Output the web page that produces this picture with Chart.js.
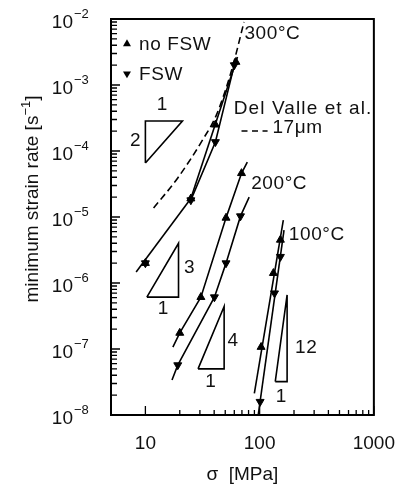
<!DOCTYPE html>
<html>
<head>
<meta charset="utf-8">
<title>minimum strain rate vs stress</title>
<script src="https://cdn.jsdelivr.net/npm/chart.js@4.4.1/dist/chart.umd.min.js"></script>
<style>
html,body{margin:0;padding:0;background:#ffffff;}
#box{position:relative;width:412px;height:486px;}
canvas{display:block;}
</style>
</head>
<body>
<div id="box"><canvas id="chart" width="412" height="486"></canvas></div>
<script>
// ---------- data: σ in MPa, minimum strain rate in s^-1 ----------
const stress300NoFSW = [10, 25, 41, 62];
const rate300NoFSW   = [2.0e-6, 1.9e-5, 2.5e-4, 2.23e-3];
const stress300FSW   = [10, 25, 41, 60];
const rate300FSW     = [2.0e-6, 1.8e-5, 1.37e-4, 2.0e-3];

const stress200NoFSW = [20, 30.6, 50.8, 69.4];
const rate200NoFSW   = [1.75e-7, 6.1e-7, 9.7e-6, 4.6e-5];
const stress200FSW   = [19.2, 40.2, 50.8, 68];
const rate200FSW     = [5.7e-8, 6.1e-7, 2.0e-6, 1.03e-5];

const stress100NoFSW = [103, 132, 152];
const rate100NoFSW   = [1.07e-7, 1.41e-6, 4.5e-6];
const stress100FSW   = [101, 135, 152];
const rate100FSW     = [1.59e-8, 7.0e-7, 2.5e-6];

// lines drawn through the data in the figure
const fit300LowStress   = [8.3, 25];
const fit300LowRate     = [1.47e-6, 1.9e-5];
const fit300NoFSWStress = [25, 64];
const fit300NoFSWRate   = [1.9e-5, 2.65e-3];
const fit300FSWStress   = [25, 41, 60, 62];
const fit300FSWRate     = [1.8e-5, 1.37e-4, 2.0e-3, 2.5e-3];
const fit200NoFSWStress = [17.4, 20, 30.6, 50.8, 69.4, 78];
const fit200NoFSWRate   = [1.07e-7, 1.75e-7, 6.1e-7, 9.7e-6, 4.6e-5, 6.8e-5];
const fit200FSWStress   = [17.1, 19.2, 40.2, 50.8, 68, 81];
const fit200FSWRate     = [3.4e-8, 5.7e-8, 6.1e-7, 2.0e-6, 1.03e-5, 2.0e-5];
const fit100NoFSWStress = [89.9, 161.2];
const fit100NoFSWRate   = [2.13e-8, 9.0e-6];
const fit100FSWStress   = [97.2, 163.5];
const fit100FSWRate     = [1.0e-8, 6.35e-6];

// Del Valle et al., 17 μm (dashed)
const delValleStress = [11.8, 19.2, 32.4, 41.8, 57, 73];
const delValleRate   = [1.37e-5, 3.9e-5, 1.57e-4, 3.5e-4, 1.7e-3, 9.0e-3];

// slope triangles (closed paths, σ / rate)
const slope2Stress  = [10, 10, 21.1, 10];
const slope2Rate    = [6.6e-5, 2.85e-4, 2.85e-4, 6.6e-5];
const slope3Stress  = [10.3, 19.5, 19.5, 10.3];
const slope3Rate    = [6.1e-7, 6.1e-7, 4.0e-6, 6.1e-7];
const slope4Stress  = [28.9, 48.9, 48.9, 28.9];
const slope4Rate    = [5.0e-8, 5.0e-8, 4.4e-7, 5.0e-8];
const slope12Stress = [137, 174, 174, 137];
const slope12Rate   = [3.2e-8, 3.2e-8, 6.6e-7, 3.2e-8];

// tick labels
const xTickValues = [10, 100, 1000];
const xTickLabels = ['10', '100', '1000'];
const yTickExponents = [-8, -7, -6, -5, -4, -3, -2];

// ---------- texts placed at (σ, rate) ----------
const notes = [
  {t: '300°C', s: 73.6, r: 5.9e-3, align: 'left', sp: 0.6},
  {t: 'Del Valle et al.', s: 59.4, r: 4.3e-4, align: 'left', sp: 1.1},
  {t: '17μm', s: 129.4, r: 2.23e-4, align: 'left', sp: 0.6},
  {t: '200°C', s: 84.3, r: 3.22e-5, align: 'left', sp: 0.6},
  {t: '100°C', s: 180.2, r: 5.34e-6, align: 'left', sp: 0.6},
  {t: '1', s: 14.0, r: 4.98e-4, align: 'center', sp: 0},
  {t: '2', s: 8.14, r: 1.42e-4, align: 'center', sp: 0},
  {t: '3', s: 24.2, r: 1.69e-6, align: 'center', sp: 0},
  {t: '1', s: 14.3, r: 4.03e-7, align: 'center', sp: 0},
  {t: '4', s: 58.2, r: 1.32e-7, align: 'center', sp: 0},
  {t: '1', s: 37.2, r: 3.16e-8, align: 'center', sp: 0},
  {t: '12', s: 255.9, r: 1.04e-7, align: 'center', sp: 0.6},
  {t: '1', s: 154.2, r: 1.87e-8, align: 'center', sp: 0}
];
const legendItems = [
  {t: 'no FSW', rot: 0, s: 6.9, ts: 8.8, r: 4.2e-3},
  {t: 'FSW', rot: 180, s: 6.9, ts: 8.8, r: 1.48e-3}
];
const dashKey = {s0: 69.4, s1: 117.4, r: 2.01e-4};

// ---------- styling ----------
const INK = '#000000';
const TXT = '#111111';
const FONT = "'Liberation Sans', Arial, Helvetica, sans-serif";
Chart.defaults.font.family = FONT;
Chart.defaults.color = TXT;

const xy = (xs, ys) => xs.map((v, i) => ({x: v, y: ys[i]}));
const isPow10 = v => Math.abs(Math.log10(v) - Math.round(Math.log10(v))) < 1e-9;

function marks(xs, ys, rot) {
  return {data: xy(xs, ys), showLine: false, pointStyle: 'triangle', pointRotation: rot,
    pointRadius: 4.6, pointHoverRadius: 4.6, pointBackgroundColor: INK, pointBorderColor: INK,
    pointBorderWidth: 1};
}
function line(xs, ys, extra) {
  return Object.assign({data: xy(xs, ys), showLine: true, pointRadius: 0, pointHoverRadius: 0,
    borderColor: INK, borderWidth: 1.6, tension: 0, fill: false, borderJoinStyle: 'miter'}, extra || {});
}

function triPath(ctx, x, y, r, rot) {
  const rad = rot * Math.PI / 180;
  ctx.beginPath();
  for (let k = 0; k < 3; k++) {
    const a = rad + k * 2 * Math.PI / 3;
    const px = x + Math.sin(a) * r, py = y - Math.cos(a) * r;
    if (k === 0) ctx.moveTo(px, py); else ctx.lineTo(px, py);
  }
  ctx.closePath();
}

const decor = {
  id: 'decor',
  afterDraw(chart) {
    const {ctx, chartArea: a, scales: {x, y}} = chart;
    ctx.save();
    ctx.strokeStyle = INK;
    // inward tick marks
    ctx.lineWidth = 1.3;
    ctx.beginPath();
    x.ticks.forEach(t => {
      const p = x.getPixelForValue(t.value);
      const L = isPow10(t.value) ? 9 : 5;
      ctx.moveTo(p, a.bottom); ctx.lineTo(p, a.bottom - L);
    });
    y.ticks.forEach(t => {
      const p = y.getPixelForValue(t.value);
      const L = isPow10(t.value) ? 9 : 6;
      ctx.moveTo(a.left, p); ctx.lineTo(a.left + L, p);
    });
    ctx.stroke();
    // frame
    ctx.lineWidth = 2;
    ctx.strokeRect(a.left, a.top, a.right - a.left, a.bottom - a.top);

    ctx.fillStyle = TXT;
    // y tick labels 10^n
    yTickExponents.forEach(e => {
      const p = y.getPixelForValue(Math.pow(10, e));
      ctx.font = '19px ' + FONT;
      ctx.textAlign = 'right'; ctx.textBaseline = 'alphabetic';
      ctx.fillText('10', a.left - 38, p + 8.5);
      ctx.font = '13px ' + FONT;
      ctx.textAlign = 'left';
      ctx.fillText('\u2212' + Math.abs(e), a.left - 37, p - 1);
    });

    // y axis title
    const main = 'minimum strain rate [s', sup = '\u22121', end = ']';
    ctx.font = '19px ' + FONT;
    const w1 = ctx.measureText(main).width, w3 = ctx.measureText(end).width;
    ctx.font = '13px ' + FONT;
    const w2 = ctx.measureText(sup).width;
    const W = w1 + w2 + w3;
    ctx.save();
    ctx.translate(a.left - 73, (a.top + a.bottom) / 2 - 18);
    ctx.rotate(-Math.PI / 2);
    ctx.textAlign = 'left'; ctx.textBaseline = 'alphabetic';
    ctx.font = '19px ' + FONT;
    ctx.fillText(main, -W / 2, 0);
    ctx.font = '13px ' + FONT;
    ctx.fillText(sup, -W / 2 + w1, -8);
    ctx.font = '19px ' + FONT;
    ctx.fillText(end, -W / 2 + w1 + w2, 0);
    ctx.restore();

    // annotations
    ctx.font = '19px ' + FONT;
    ctx.textBaseline = 'middle';
    notes.forEach(n => {
      ctx.letterSpacing = n.sp + 'px';
      ctx.textAlign = n.align;
      ctx.fillText(n.t, x.getPixelForValue(n.s), y.getPixelForValue(n.r));
    });

    // legend
    ctx.letterSpacing = '0.6px';
    legendItems.forEach(it => {
      const py = y.getPixelForValue(it.r);
      triPath(ctx, x.getPixelForValue(it.s), py, 4.6, it.rot);
      ctx.fillStyle = INK; ctx.fill();
      ctx.fillStyle = TXT; ctx.textAlign = 'left';
      ctx.fillText(it.t, x.getPixelForValue(it.ts), py + 1);
    });
    ctx.letterSpacing = '0px';
    // dashed key
    ctx.setLineDash([6, 4.5]);
    ctx.lineWidth = 1.6;
    ctx.beginPath();
    const dy = y.getPixelForValue(dashKey.r);
    ctx.moveTo(x.getPixelForValue(dashKey.s0), dy);
    ctx.lineTo(x.getPixelForValue(dashKey.s1), dy);
    ctx.stroke();
    ctx.restore();
  }
};

const xMinor = [20, 30, 40, 50, 60, 70, 80, 90, 200, 300, 400, 500, 600, 700, 800, 900];

new Chart(document.getElementById('chart'), {
  type: 'scatter',
  data: {
    datasets: [
      marks(stress300NoFSW, rate300NoFSW, 0),
      marks(stress300FSW, rate300FSW, 180),
      marks(stress200NoFSW, rate200NoFSW, 0),
      marks(stress200FSW, rate200FSW, 180),
      marks(stress100NoFSW, rate100NoFSW, 0),
      marks(stress100FSW, rate100FSW, 180),
      line(fit300LowStress, fit300LowRate),
      line(fit300NoFSWStress, fit300NoFSWRate),
      line(fit300FSWStress, fit300FSWRate),
      line(fit200NoFSWStress, fit200NoFSWRate),
      line(fit200FSWStress, fit200FSWRate),
      line(fit100NoFSWStress, fit100NoFSWRate),
      line(fit100FSWStress, fit100FSWRate),
      line(delValleStress, delValleRate, {borderDash: [7, 4], cubicInterpolationMode: 'monotone', tension: 0.4}),
      line(slope2Stress, slope2Rate),
      line(slope3Stress, slope3Rate),
      line(slope4Stress, slope4Rate),
      line(slope12Stress, slope12Rate)
    ]
  },
  options: {
    responsive: false,
    devicePixelRatio: 1,
    animation: false,
    events: [],
    layout: {padding: {left: 0, right: 29, top: 19, bottom: 0}},
    plugins: {legend: {display: false}, tooltip: {enabled: false}},
    scales: {
      x: {
        type: 'logarithmic', position: 'bottom', min: 5, max: 1000,
        grid: {display: false, drawTicks: false}, border: {display: false},
        afterBuildTicks: s => {
          s.ticks = xTickValues.concat(xMinor).sort((p, q) => p - q).map(v => ({value: v}));
        },
        ticks: {
          autoSkip: false, maxRotation: 0, minRotation: 0, padding: 17, color: TXT,
          font: {size: 19, family: FONT},
          callback: v => { const i = xTickValues.indexOf(v); return i >= 0 ? xTickLabels[i] : ''; }
        },
        title: {display: true, text: 'σ  [MPa]', color: TXT, font: {size: 19, family: FONT}, padding: {top: 0, bottom: 0}},
        afterFit: s => { s.height = 71; }
      },
      y: {
        type: 'logarithmic', position: 'left', min: 1e-8, max: 1e-2,
        grid: {display: false, drawTicks: false}, border: {display: false},
        afterBuildTicks: s => {
          const t = [];
          yTickExponents.forEach(e => {
            for (let m = 1; m <= 9; m++) {
              if (e === -2 && m > 1) break;
              t.push({value: m * Math.pow(10, e)});
            }
          });
          s.ticks = t;
        },
        ticks: {display: false},
        afterFit: s => { s.width = 111; }
      }
    }
  },
  plugins: [decor]
});
</script>
</body>
</html>
